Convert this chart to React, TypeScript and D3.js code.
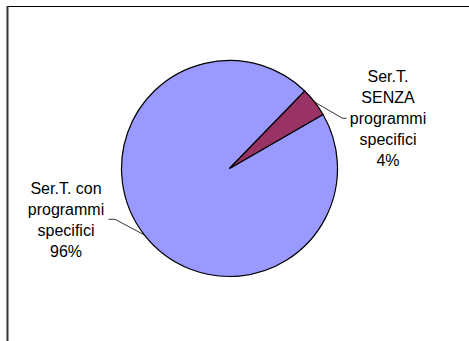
import * as d3 from 'd3';

const categories = ['Ser.T. con programmi specifici', 'Ser.T. SENZA programmi specifici'];
const values = [95.6, 4.4];
const labelLines = [
  ['Ser.T. con', 'programmi', 'specifici'],
  ['Ser.T.', 'SENZA', 'programmi', 'specifici'],
];
const colors = ['#9999FF', '#993366'];

export default function App() {
  const width = 469;
  const height = 341;
  const cx = 229.5;
  const cy = 168.5;
  const r = 108;

  const total = d3.sum(values);
  const slices = d3
    .pie<number>()
    .sort(null)
    .startAngle((60 * Math.PI) / 180)
    .endAngle((60 * Math.PI) / 180 + 2 * Math.PI)(values);
  const arc = d3.arc<d3.PieArcDatum<number>>().innerRadius(0).outerRadius(r);

  // label anchor (centre x, first baseline) and leader elbow
  const labelPos = [
    { x: 66, y: 193.5, elbow: [115, 219.3], end: [108.5, 219.3] },
    { x: 388, y: 81.5, elbow: [342.5, 118.3], end: [346.5, 118.3] },
  ];
  const lineH = 21;

  return (
    <svg
      width={width}
      height={height}
      style={{ position: 'absolute', left: 0, top: 0, background: '#fff' }}
      fontFamily="'Liberation Sans', Arial, sans-serif"
    >
      <rect width={width} height={height} fill="#fff" />
      <line x1={7} y1={6.5} x2={width} y2={6.5} stroke="#000" strokeWidth={1} />
      <line x1={7.5} y1={6} x2={7.5} y2={height} stroke="#333" strokeWidth={2} />
      <g transform={`translate(${cx},${cy})`}>
        {slices.map((s, i) => (
          <path key={i} d={arc(s) || ''} fill={colors[i]} stroke="#000" strokeWidth={1.2} />
        ))}
      </g>
      {slices.map((s, i) => {
        const mid = (s.startAngle + s.endAngle) / 2;
        const px = cx + r * Math.sin(mid);
        const py = cy - r * Math.cos(mid);
        const p = labelPos[i];
        const lines = [...labelLines[i], `${Math.round((values[i] / total) * 100)}%`];
        return (
          <g key={categories[i]}>
            <polyline
              points={`${px},${py} ${p.elbow[0]},${p.elbow[1]} ${p.end[0]},${p.end[1]}`}
              fill="none"
              stroke="#000"
              strokeWidth={0.8}
            />
            <text x={p.x} y={p.y} textAnchor="middle" fontSize={16} fill="#000">
              {lines.map((t, j) => (
                <tspan key={j} x={p.x} y={p.y + j * lineH}>
                  {t}
                </tspan>
              ))}
            </text>
          </g>
        );
      })}
    </svg>
  );
}
